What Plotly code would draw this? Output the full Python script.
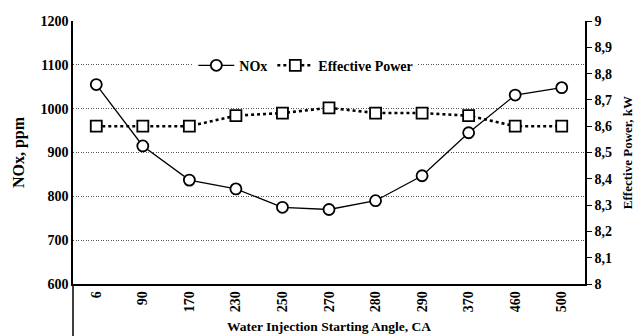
import plotly.graph_objects as go

angles = ["6", "90", "170", "230", "250", "270", "280", "290", "370", "460", "500"]
nox_ppm = [1055, 915, 837, 817, 775, 770, 790, 847, 945, 1031, 1048]
power_kw = [8.60, 8.60, 8.60, 8.64, 8.65, 8.67, 8.65, 8.65, 8.64, 8.60, 8.60]

FONT = "Liberation Serif"

fig = go.Figure()

fig.add_trace(go.Scatter(
    x=angles, y=nox_ppm, name="NOx", mode="lines+markers",
    line=dict(color="black", width=1.3),
    marker=dict(symbol="circle", size=11, color="white",
                line=dict(color="black", width=1.8)),
    yaxis="y",
))

fig.add_trace(go.Scatter(
    x=angles, y=power_kw, name="Effective Power", mode="lines+markers",
    line=dict(color="black", width=2.6, dash="dot"),
    marker=dict(symbol="square", size=11, color="white",
                line=dict(color="black", width=1.8)),
    yaxis="y2",
))

fig.update_layout(
    width=644, height=336,
    margin=dict(l=73, r=59, t=21, b=52, autoexpand=False),
    paper_bgcolor="white", plot_bgcolor="white",
    separators=", ",
    font=dict(family=FONT, size=14, color="black"),
    showlegend=True,
    legend=dict(
        orientation="h", x=0.235, y=0.83, xanchor="left", yanchor="middle",
        bgcolor="white", font=dict(family=FONT, size=14, color="black", weight="bold"),
        itemwidth=36, tracegroupgap=0,
    ),
    xaxis=dict(
        type="category", tickangle=-90, showgrid=False, automargin=False,
        showline=True, linecolor="black", linewidth=1.5,
        ticks="", tickfont=dict(family=FONT, size=14, weight="bold"),
        title=dict(text="Water Injection Starting Angle, CA", standoff=10,
                   font=dict(family=FONT, size=13.5, weight="bold")),
        range=[-0.5, len(angles) - 0.5],
    ),
    yaxis=dict(
        range=[600, 1200], dtick=100, showgrid=True, automargin=False,
        gridcolor="#555", griddash="1px,1.5px", gridwidth=1,
        showline=True, linecolor="black", linewidth=1.5,
        ticks="", tickfont=dict(family=FONT, size=14, weight="bold"),
        zeroline=False,
        title=dict(text="NOx, ppm", standoff=12,
                   font=dict(family=FONT, size=16, weight="bold")),
    ),
    yaxis2=dict(
        range=[8, 9], dtick=0.1, overlaying="y", side="right", automargin=False,
        showgrid=False, zeroline=False,
        showline=True, linecolor="black", linewidth=1.5,
        ticks="outside", ticklen=5, tickcolor="black", tickwidth=1.2,
        tickfont=dict(family=FONT, size=14, weight="bold"),
        title=dict(text="Effective Power, kW", standoff=12,
                   font=dict(family=FONT, size=13, weight="bold")),
    ),
)

# left axis line continues down past the category labels
fig.add_shape(type="line", xref="paper", yref="paper",
              x0=0, x1=0, y0=-0.2, y1=0,
              line=dict(color="black", width=1.5))

fig.write_html("out.html")
